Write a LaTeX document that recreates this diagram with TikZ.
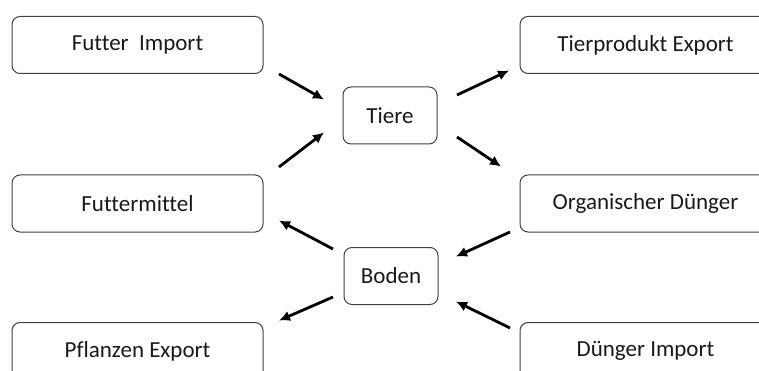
\documentclass[tikz,border=0pt]{standalone}
\usepackage{fontspec}
\setmainfont{Carlito}[Ligatures={NoCommon}]
\usetikzlibrary{arrows.meta}

\begin{document}
\begin{tikzpicture}[x=1pt,y=-1pt,>={Latex[length=11pt,width=10.5pt]},
	box/.style={draw=black!75,line width=1pt,rounded corners=8pt,minimum height=57pt,inner sep=0pt,font=\fontsize{23}{27}\selectfont,text=black!90},
	wide/.style={box,minimum width=251pt},
	small/.style={box,minimum width=94pt},
	flow/.style={->,line width=2.8pt}]
	\useasboundingbox (0,0) rectangle (759,371);
	% boxes
	\node[wide] (fimport) at (137.5,45) {Futter\ \ Import};
	\node[wide] (fmittel) at (137.5,203.5) {Futtermittel};
	\node[wide] (pexport) at (137.5,351) {Pflanzen Export};
	\node[small] (tiere) at (390,115.5) {Tiere};
	\node[small] (boden) at (391,276) {Boden};
	\node[wide] (texport) at (645.5,45) {Tierprodukt Export};
	\node[wide] (odung) at (645.5,203.5) {Organischer D\"unger};
	\node[wide] (dimport) at (645.5,351) {D\"unger Import};
	% arrow ends
	\coordinate (fimport-out) at (279,74);
	\coordinate (tiere-in1) at (324,99.5);
	\coordinate (fmittel-out) at (279,167);
	\coordinate (tiere-in2) at (324,132.5);
	\coordinate (tiere-out1) at (457,95);
	\coordinate (texport-in) at (509,70.5);
	\coordinate (tiere-out2) at (457,137);
	\coordinate (odung-in) at (501,166.5);
	\coordinate (odung-out) at (510,232);
	\coordinate (boden-in1) at (456,256.5);
	\coordinate (dimport-out) at (510,328);
	\coordinate (boden-in2) at (456,301.5);
	\coordinate (boden-out1) at (333,249);
	\coordinate (fmittel-in) at (279,220.5);
	\coordinate (boden-out2) at (333,297);
	\coordinate (pexport-in) at (279,320.5);
	% flows
	\draw[flow] (fimport-out) -- (tiere-in1);
	\draw[flow] (fmittel-out) -- (tiere-in2);
	\draw[flow] (tiere-out1) -- (texport-in);
	\draw[flow] (tiere-out2) -- (odung-in);
	\draw[flow] (odung-out) -- (boden-in1);
	\draw[flow] (dimport-out) -- (boden-in2);
	\draw[flow] (boden-out1) -- (fmittel-in);
	\draw[flow] (boden-out2) -- (pexport-in);
\end{tikzpicture}
\end{document}
